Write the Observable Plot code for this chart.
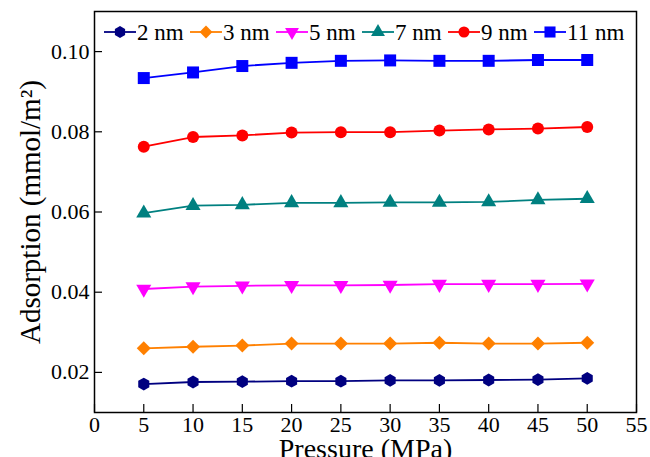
<!DOCTYPE html>
<html>
<head>
<meta charset="utf-8">
<script src="https://cdn.jsdelivr.net/npm/d3@7"></script>
<script src="https://cdn.jsdelivr.net/npm/@observablehq/plot@0.6"></script>
<style>
  html, body { margin: 0; padding: 0; background: #fff; }
  #chart { width: 650px; height: 457px; overflow: hidden; }
  #chart svg, #chart svg text { font-family: "Liberation Serif", "Times New Roman", serif !important; }
</style>
</head>
<body>
<div id="chart"></div>
<script>
const pressure = [5, 10, 15, 20, 25, 30, 35, 40, 45, 50];
const seriesNames = ["2 nm", "3 nm", "5 nm", "7 nm", "9 nm", "11 nm"];
const s2nm  = [0.0171, 0.0176, 0.0177, 0.0178, 0.0178, 0.0180, 0.0180, 0.0181, 0.0182, 0.0185];
const s3nm  = [0.0260, 0.0264, 0.0267, 0.0272, 0.0272, 0.0272, 0.0274, 0.0272, 0.0272, 0.0274];
const s5nm  = [0.0408, 0.0414, 0.0416, 0.0417, 0.0417, 0.0418, 0.0420, 0.0420, 0.0420, 0.0421];
const s7nm  = [0.0597, 0.0616, 0.0618, 0.0623, 0.0623, 0.0624, 0.0624, 0.0625, 0.0630, 0.0633];
const s9nm  = [0.0763, 0.0787, 0.0791, 0.0798, 0.0799, 0.0799, 0.0803, 0.0806, 0.0808, 0.0812];
const s11nm = [0.0934, 0.0948, 0.0964, 0.0972, 0.0977, 0.0978, 0.0977, 0.0977, 0.0979, 0.0979];
const seriesValues = [s2nm, s3nm, s5nm, s7nm, s9nm, s11nm];
const colors = ["#000080", "#FF8000", "#FF00FF", "#008080", "#FF0000", "#0000FF"];
const xTicks = [0, 5, 10, 15, 20, 25, 30, 35, 40, 45, 50, 55];
const yTicks = [0.02, 0.04, 0.06, 0.08, 0.10];

const FONT = "Liberation Serif, Times New Roman, serif";

const hexagon = {
  draw(ctx, size) {
    const rr = Math.sqrt(size / Math.PI), hr = rr * Math.sqrt(3) / 2;
    ctx.moveTo(0, -rr); ctx.lineTo(hr, -rr / 2); ctx.lineTo(hr, rr / 2);
    ctx.lineTo(0, rr); ctx.lineTo(-hr, rr / 2); ctx.lineTo(-hr, -rr / 2); ctx.closePath();
  }
};
const triangleDown = {
  draw(context, size) {
    const sqrt3 = Math.sqrt(3);
    const y = Math.sqrt(size / (sqrt3 * 3));
    context.moveTo(0, y * 2);
    context.lineTo(-sqrt3 * y, -y);
    context.lineTo(sqrt3 * y, -y);
    context.closePath();
  }
};
const symbols = [hexagon, d3.symbolDiamond2, triangleDown, d3.symbolTriangle, d3.symbolCircle, d3.symbolSquare];
const radii = [6.4, 6.3, 5.6, 5.6, 6.0, 6.77];

const marks = [];
seriesValues.forEach((vals, i) => {
  const data = pressure.map((p, j) => ({p, v: vals[j]}));
  marks.push(Plot.line(data, {x: "p", y: "v", stroke: colors[i], strokeWidth: 1.8}));
  marks.push(Plot.dot(data, {x: "p", y: "v", symbol: () => symbols[i], fill: colors[i], stroke: "none", r: radii[i]}));
});

const chart = Plot.plot({
  width: 650,
  height: 457,
  marginLeft: 94,
  marginRight: 14,
  marginTop: 11,
  marginBottom: 45,
  x: {domain: [0, 55]},
  y: {domain: [0.01, 0.11]},
  symbol: {type: "identity"},
  style: {fontFamily: FONT, color: "#000", background: "#fff"},
  marks: [
    ...marks,
    Plot.axisX({ticks: xTicks, tickSize: -8, tickPadding: 12, tickFormat: d3.format("d"), label: null, stroke: "#000", strokeWidth: 1.2, fontSize: 22, fontFamily: FONT, fill: "#000"}),
    Plot.axisY({ticks: yTicks, tickSize: -8, tickPadding: 13, tickFormat: d3.format(".2f"), label: null, stroke: "#000", strokeWidth: 1.2, fontSize: 22, fontFamily: FONT, fill: "#000"}),
    Plot.frame({stroke: "#000", strokeWidth: 1.5}),
    Plot.text(["Pressure (MPa)"], {frameAnchor: "bottom", dy: 37, fontSize: 28, fontFamily: FONT, lineAnchor: "middle", textAnchor: "middle", fill: "#000"}),
    Plot.text(["Adsorption (mmol/m²)"], {frameAnchor: "left", dx: -64, rotate: -90, fontSize: 29, fontFamily: FONT, lineAnchor: "middle", textAnchor: "middle", fill: "#000"})
  ]
});

// Legend (inside the plot area, top)
const svg = d3.select(chart);
const lg = svg.append("g").attr("class", "legend");
seriesNames.forEach((name, i) => {
  const x0 = 104 + 86 * i;
  const cy = 32;
  const g = lg.append("g");
  g.append("line").attr("x1", x0).attr("x2", x0 + 32).attr("y1", cy).attr("y2", cy)
    .attr("stroke", colors[i]).attr("stroke-width", 1.8);
  const size = radii[i] * radii[i] * Math.PI * 0.85;
  g.append("path").attr("d", d3.symbol(symbols[i], size)()).attr("transform", `translate(${x0 + 16},${cy})`).attr("fill", colors[i]);
  g.append("text").attr("x", x0 + 33).attr("y", cy).attr("dy", "0.35em")
    .attr("text-anchor", "start").attr("font-family", FONT).attr("font-size", 23).attr("fill", "#000").text(name);
});

document.getElementById("chart").appendChild(chart);
</script>
</body>
</html>
